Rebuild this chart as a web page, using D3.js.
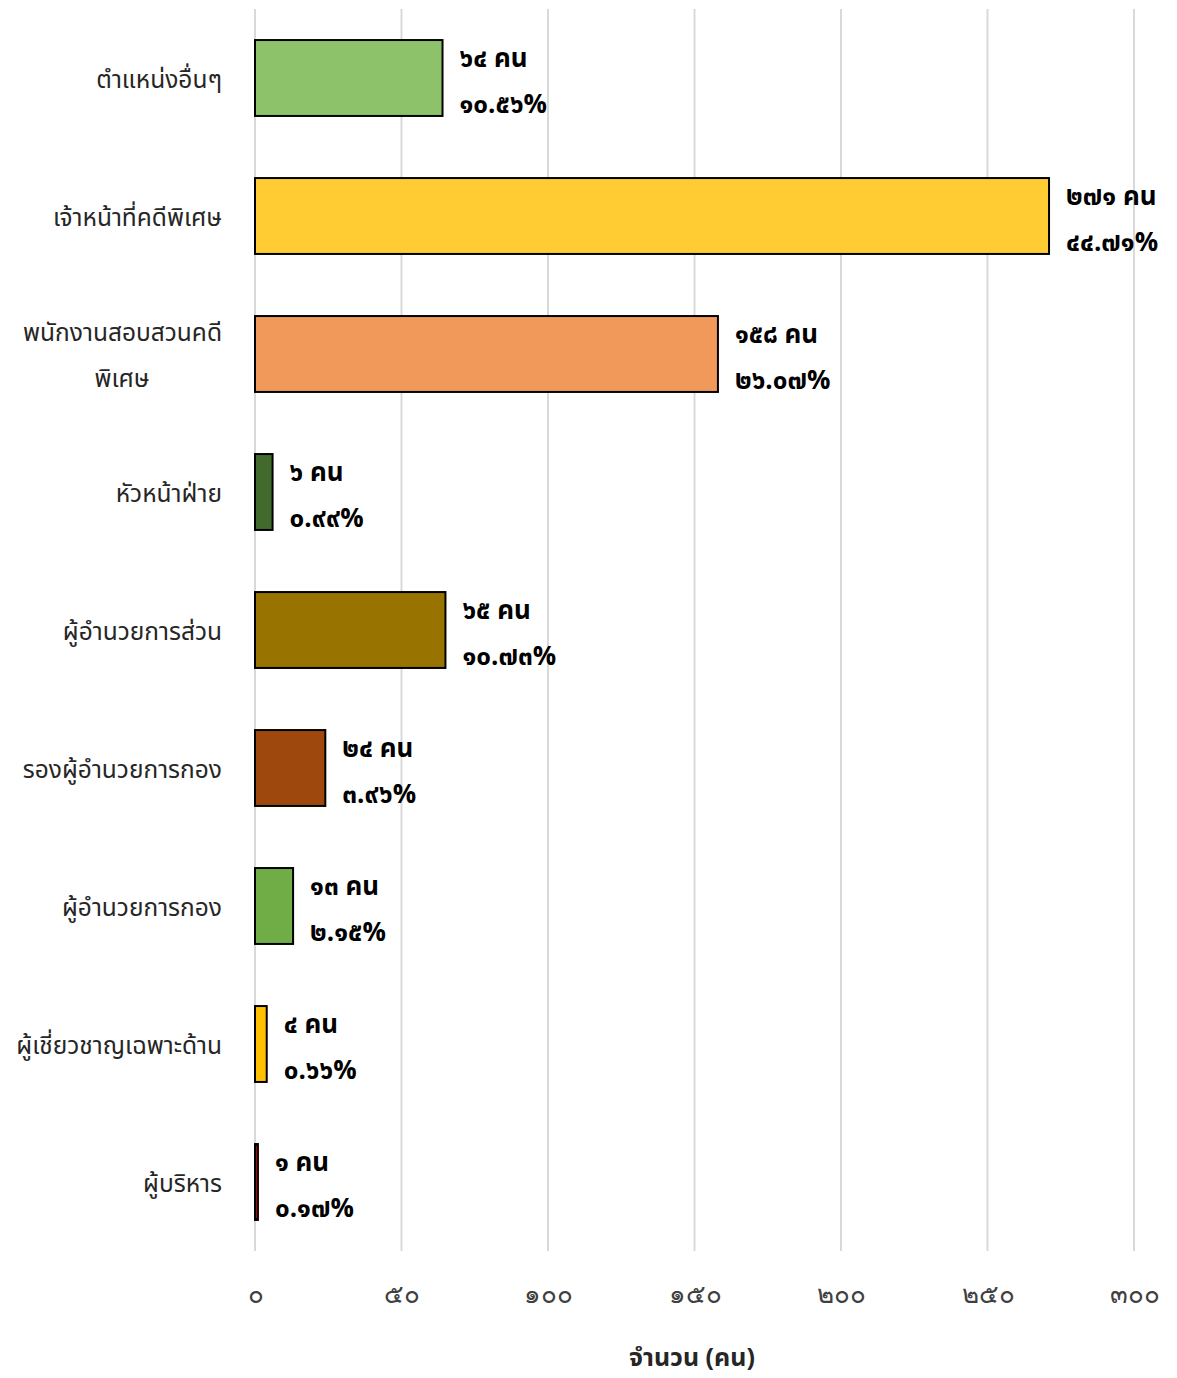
<!DOCTYPE html>
<html>
<head>
<meta charset="utf-8">
<script src="https://cdn.jsdelivr.net/npm/d3@7/dist/d3.min.js"></script>
<style>
  html, body { margin: 0; padding: 0; background: #fff; }
  svg { display: block; font-family: "Noto Sans Thai", "Noto Sans", "DejaVu Sans", sans-serif; }
</style>
</head>
<body>
<svg id="chart" width="1177" height="1378"></svg>
<script>
// Staff by position (people), top to bottom
const categories = [
  "ตำแหน่งอื่นๆ",
  "เจ้าหน้าที่คดีพิเศษ",
  "พนักงานสอบสวนคดีพิเศษ",
  "หัวหน้าฝ่าย",
  "ผู้อำนวยการส่วน",
  "รองผู้อำนวยการกอง",
  "ผู้อำนวยการกอง",
  "ผู้เชี่ยวชาญเฉพาะด้าน",
  "ผู้บริหาร"
];
const counts = [64, 271, 158, 6, 65, 24, 13, 4, 1];
const percents = [10.56, 44.71, 26.07, 0.99, 10.73, 3.96, 2.15, 0.66, 0.17];
const barColors = ["#8DC26A", "#FFCC33", "#F0995A", "#436A2D", "#997300", "#9E480E", "#70AD47", "#FFC000", "#C00000"];
const xTicks = [0, 50, 100, 150, 200, 250, 300];
const axisTitle = "จำนวน (คน)";

// Arabic to Thai digits
const thaiDigits = "๐๑๒๓๔๕๖๗๘๙";
const toThai = s => String(s).replace(/[0-9]/g, d => thaiDigits[+d]);

// Category labels that wrap onto two lines
const wrapLines = {"พนักงานสอบสวนคดีพิเศษ": ["พนักงานสอบสวนคดี", "พิเศษ"]};

const svg = d3.select("#chart");
const plotLeft = 255, plotRight = 1134, plotTop = 9, plotBottom = 1251;

const x = d3.scaleLinear().domain([0, 300]).range([plotLeft, plotRight]);
const y = d3.scaleBand().domain(categories).range([plotTop, plotBottom]).paddingInner(0.45).paddingOuter(0.225);

// Vertical gridlines
svg.append("g")
  .selectAll("line")
  .data(xTicks)
  .join("line")
  .attr("x1", d => x(d)).attr("x2", d => x(d))
  .attr("y1", plotTop).attr("y2", plotBottom)
  .attr("stroke", "#D9D9D9")
  .attr("stroke-width", 2);

// X axis tick labels
const xAxis = d3.axisBottom(x).tickValues(xTicks).tickSize(0).tickPadding(0).tickFormat(d => toThai(d));
const gx = svg.append("g").attr("transform", `translate(0, 1285)`).call(xAxis);
gx.select(".domain").remove();
gx.selectAll("text")
  .attr("font-size", 26)
  .attr("fill", "#404040")
  .attr("font-family", "inherit");

// Bars
const rows = categories.map((c, i) => ({cat: c, n: counts[i], pct: percents[i], color: barColors[i]}));
svg.append("g")
  .selectAll("rect")
  .data(rows)
  .join("rect")
  .attr("x", x(0))
  .attr("y", d => y(d.cat))
  .attr("width", d => x(d.n) - x(0))
  .attr("height", y.bandwidth())
  .attr("fill", d => d.color)
  .attr("stroke", "#000")
  .attr("stroke-width", 2);

// Value labels: count and share
const lab = svg.append("g")
  .selectAll("text")
  .data(rows)
  .join("text")
  .attr("font-size", 26)
  .attr("font-weight", "bold")
  .attr("fill", "#000");
lab.append("tspan")
  .attr("x", d => x(d.n) + 17)
  .attr("y", d => y(d.cat) + y.bandwidth() / 2 - 11)
  .text(d => toThai(d.n) + " คน");
lab.append("tspan")
  .attr("x", d => x(d.n) + 17)
  .attr("y", d => y(d.cat) + y.bandwidth() / 2 + 35)
  .text(d => toThai(d.pct.toFixed(2)) + "%");

// Category labels
const cl = svg.append("g")
  .selectAll("text")
  .data(categories)
  .join("text")
  .attr("text-anchor", "end")
  .attr("font-size", 24.5)
  .attr("fill", "#262626");
cl.each(function(c) {
  const lines = wrapLines[c] || [c];
  const t = d3.select(this);
  const cy = y(c) + y.bandwidth() / 2;
  if (lines.length === 1) {
    t.append("tspan").attr("x", 222).attr("y", cy + 10).text(lines[0]);
  } else {
    t.append("tspan").attr("x", 222).attr("y", cy - 13).text(lines[0]);
    t.append("tspan").attr("x", 122).attr("text-anchor", "middle").attr("y", cy + 33).text(lines[1]);
  }
});

// Axis title
svg.append("text")
  .attr("x", 692)
  .attr("y", 1366)
  .attr("text-anchor", "middle")
  .attr("font-size", 25)
  .attr("font-weight", "bold")
  .attr("fill", "#262626")
  .text(axisTitle);
</script>
</body>
</html>
